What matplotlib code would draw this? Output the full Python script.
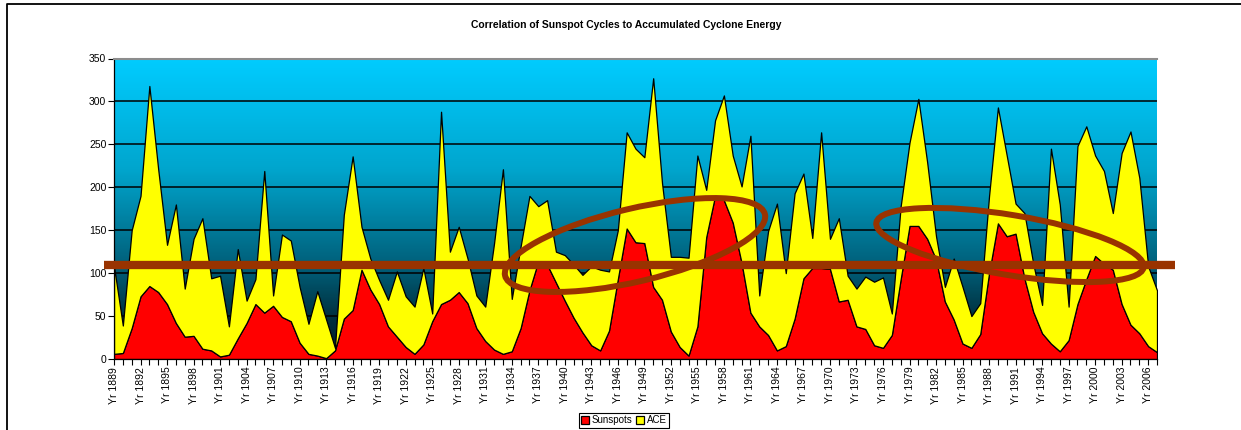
import numpy as np
import matplotlib
matplotlib.use('Agg')
import matplotlib.pyplot as plt
from matplotlib.patches import Ellipse
from matplotlib.colors import LinearSegmentedColormap

plt.rcParams['font.family'] = ['Liberation Sans', 'DejaVu Sans']

title = 'Correlation of Sunspot Cycles to Accumulated Cyclone Energy'
series_names = ['Sunspots', 'ACE']
years = list(range(1889, 2008))

# yearly sunspot number (bottom layer, red)
sunspots = [6, 7, 36, 73, 85, 78, 64, 42, 26, 27,
            12, 10, 3, 5, 24, 42, 64, 54, 62, 49,
            44, 19, 6, 4, 1, 10, 47, 57, 104, 81,
            64, 38, 26, 14, 6, 17, 44, 64, 69, 78,
            65, 36, 21, 11, 6, 9, 36, 80, 114, 110,
            89, 68, 48, 31, 16, 10, 33, 93, 152, 136,
            135, 84, 69, 32, 14, 4, 38, 142, 190, 185,
            159, 112, 54, 38, 28, 10, 15, 47, 94, 106,
            106, 105, 67, 69, 38, 35, 16, 13, 28, 93,
            155, 155, 140, 116, 67, 46, 18, 13, 29, 100,
            158, 143, 146, 94, 55, 30, 18, 9, 22, 64,
            93, 120, 111, 104, 64, 40, 30, 15, 8]

# accumulated cyclone energy (stacked on top, yellow)
ace = [102, 32, 114, 117, 233, 143, 69, 138, 56, 113,
       152, 84, 94, 33, 104, 26, 29, 165, 12, 96,
       94, 65, 35, 75, 45, 3, 121, 179, 50, 36,
       28, 31, 76, 59, 55, 89, 9, 224, 56, 76,
       52, 38, 40, 124, 215, 61, 95, 110, 64, 75,
       36, 53, 62, 67, 92, 94, 69, 57, 112, 109,
       100, 243, 136, 87, 105, 114, 199, 55, 88, 122,
       78, 89, 206, 36, 121, 171, 85, 146, 122, 35,
       158, 35, 97, 28, 44, 61, 74, 82, 25, 85,
       97, 148, 89, 27, 17, 71, 66, 37, 36, 90,
       135, 94, 35, 76, 56, 33, 227, 171, 39, 184,
       178, 117, 108, 66, 176, 225, 181, 93, 72]

W, H = 1241, 430
fig = plt.figure(figsize=(W / 100, H / 100), dpi=100)
fig.patch.set_facecolor('white')

ax = fig.add_axes([114 / W, 1 - 359 / H, (1157 - 114) / W, (359 - 58.5) / H])

# gradient plot area
bg = LinearSegmentedColormap.from_list('bg', [
    (0.0, (0 / 255, 25 / 255, 35 / 255)),
    (0.143, (0 / 255, 50 / 255, 65 / 255)),
    (0.286, (0 / 255, 90 / 255, 115 / 255)),
    (0.629, (0 / 255, 165 / 255, 205 / 255)),
    (1.0, (0 / 255, 204 / 255, 255 / 255))])
grad = np.linspace(1, 0, 300).reshape(-1, 1)
ax.imshow(grad, extent=[years[0], years[-1], 0, 350], aspect='auto',
          cmap=bg, origin='upper', zorder=0)

ax.stackplot(years, sunspots, ace, colors=['#FF0000', '#FFFF00'],
             edgecolor='black', linewidth=0.9, labels=series_names, zorder=2)

ax.set_xlim(years[0], years[-1])
ax.set_ylim(0, 350)
ax.set_yticks(range(0, 351, 50))
ax.set_axisbelow(True)
ax.yaxis.grid(True, color='black', linewidth=1.1)
ax.set_xticks(years)
ax.set_xticklabels(['Yr %d' % y if (y - years[0]) % 3 == 0 else '' for y in years],
                   rotation=90)
ax.tick_params(axis='both', direction='out', length=4, width=0.8,
               labelsize=7.5, pad=1.5, colors='black')

ax.spines['right'].set_visible(False)
ax.spines['top'].set_color('#8c8c8c')
ax.spines['top'].set_linewidth(1.5)
ax.spines['left'].set_linewidth(0.9)
ax.spines['bottom'].set_linewidth(0.9)

fig.text(626 / W, 1 - 25 / H, title, ha='center', va='center',
         fontsize=7.5, fontweight='bold')

leg = fig.legend(loc='upper center', bbox_to_anchor=(624 / W, 1 - 413 / H), ncol=2,
                 fontsize=7, frameon=True, fancybox=False, edgecolor='black',
                 framealpha=1, handlelength=0.75, handleheight=0.75,
                 handletextpad=0.3, columnspacing=0.4, borderpad=0.25,
                 borderaxespad=0)
leg.get_frame().set_linewidth(0.8)

# overlay in pixel space: chart frame and hand-drawn annotations
ov = fig.add_axes([0, 0, 1, 1], facecolor='none')
ov.set_xlim(0, W)
ov.set_ylim(H, 0)
ov.axis('off')
ov.plot([7, 7, W], [H, 4, 4], color='black', linewidth=1.3)
brown = '#993300'
ov.plot([104, 1175], [265, 265], color=brown, linewidth=6, solid_capstyle='butt')
ov.add_patch(Ellipse((635, 245), 267, 73, angle=-13.3, fill=False,
                     edgecolor=brown, linewidth=4.3))
ov.add_patch(Ellipse((1010, 245), 271, 60, angle=9.5, fill=False,
                     edgecolor=brown, linewidth=4.3))

fig.savefig('out.png', dpi=100)
